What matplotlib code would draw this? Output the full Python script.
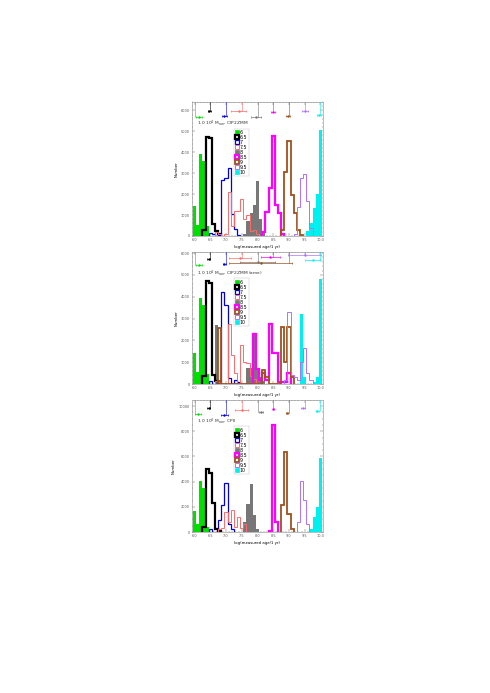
import numpy as np
import matplotlib
matplotlib.use('Agg')
import matplotlib.pyplot as plt
from matplotlib.lines import Line2D

# true ages of the nine populations (log yr)
ages = ['6', '6.5', '7', '7.5', '8', '8.5', '9', '9.5', '10']
true_age = [6.0, 6.5, 7.0, 7.5, 8.0, 8.5, 9.0, 9.5, 10.0]
colors = ['#00e000', 'black', '#0000e0', '#ff6a6a', '#777777',
          '#ff00ff', '#a0501e', '#b070ff', '#00f0f0']
filled = [True, False, False, False, True, False, False, False, True]
lws = [0.6, 1.6, 0.9, 0.7, 0.6, 1.6, 1.3, 0.7, 0.6]

# panel 1: CIP2ZMM
p1_start = [6.0, 6.3, 6.5, 6.7, 7.6, 8.2, 8.8, 9.2, 9.6]
p1_counts = [
    [1430, 520, 3900, 3600, 480],
    [300, 4730, 4660, 550, 250, 80],
    [150, 100, 0, 50, 2660, 2780, 3260, 1070, 330, 50],
    [200, 100, 0, 100, 2100, 500, 1200, 1200, 1750, 800, 1000, 250, 300, 100],
    [100, 700, 1100, 1500, 2620, 800, 150],
    [200, 1150, 2300, 4760, 1500, 1100, 100],
    [270, 3080, 4520, 1960, 1100, 270, 50],
    [100, 1400, 2780, 2950, 1650, 400],
    [250, 600, 1350, 2000, 5080],
]
p1_mean = [6.15, 6.47, 6.95, 7.4, 7.95, 8.5, 8.97, 9.5, 9.95]
p1_err = [0.1, 0.05, 0.08, 0.25, 0.15, 0.07, 0.05, 0.1, 0.06]
p1_ybar = [5700, 5950, 5750, 5950, 5700, 5900, 5750, 5950, 5800]

# panel 2: CIP2ZMM (ame)
p2_start = [6.0, 6.3, 6.5, 6.7, 6.7, 7.9, 6.8, 8.9, 9.4]
p2_counts = [
    [1440, 530, 3950, 3640, 450],
    [350, 4700, 4640, 420, 150],
    [150, 0, 0, 0, 4200, 3600, 270, 0, 200, 100],
    [150, 100, 0, 0, 2770, 1330, 500, 0, 1790, 1030, 950, 350, 250],
    [2700, 200, 0, 0, 0, 0, 0, 0, 0, 0, 730, 730, 2360, 700, 300, 150],
    [2270, 700, 200, 500, 200, 2740, 1440, 1440, 100, 100, 100, 500],
    [2550, 0, 0, 0, 0, 0, 0, 0, 0, 0, 0, 0, 0, 0, 650, 300, 0, 0, 0, 0, 2620, 1030, 2620, 300],
    [200, 3300, 400, 300, 200, 1000, 1640, 500, 200],
    [3230, 300, 0, 0, 100, 300, 4820],
]
p2_mean = [6.15, 6.45, 6.95, 7.45, 8.0, 8.4, 8.1, 9.5, 9.75]
p2_err = [0.1, 0.05, 0.06, 0.35, 0.55, 0.3, 1.0, 0.52, 0.25]
p2_ybar = [5450, 5730, 5500, 5770, 5590, 5830, 5550, 5900, 5670]

# panel 3: CPII
p3_start = [6.0, 6.3, 6.5, 6.8, 7.6, 8.4, 8.8, 9.3, 9.7]
p3_counts = [
    [1670, 660, 4080, 3500, 400],
    [400, 4990, 4700, 2300, 270, 100],
    [200, 0, 0, 930, 2120, 3930, 660, 270],
    [200, 300, 1600, 800, 1720, 400, 1200, 300, 600],
    [800, 2250, 3850, 1330, 200],
    [100, 8490, 800],
    [2120, 6370, 1460, 200],
    [800, 4030, 2520, 600],
    [200, 1190, 1990, 5840],
]
p3_mean = [6.1, 6.45, 6.95, 7.5, 8.1, 8.5, 8.95, 9.45, 9.9]
p3_err = [0.1, 0.05, 0.1, 0.2, 0.06, 0.02, 0.03, 0.06, 0.04]
p3_ybar = [9400, 9850, 9300, 9700, 9500, 9800, 9450, 9850, 9600]

titles = [r'1.0$\cdot$10$^4$ M$_{\rm sun}$, CIP2ZMM',
          r'1.0$\cdot$10$^4$ M$_{\rm sun}$, CIP2ZMM (ame)',
          r'1.0$\cdot$10$^4$ M$_{\rm sun}$, CPII']
ytop = [6400, 6050, 10480]
yticks = [np.arange(0, 6001, 1000), np.arange(0, 6001, 1000), np.arange(0, 10001, 2000)]

W, H = 490, 693
fig = plt.figure(figsize=(W / 100, H / 100), dpi=100)
boxes = [(192, 102, 323, 236), (192, 252, 323, 384), (192, 400, 323, 532)]

panels = [(p1_start, p1_counts, p1_mean, p1_err, p1_ybar),
          (p2_start, p2_counts, p2_mean, p2_err, p2_ybar),
          (p3_start, p3_counts, p3_mean, p3_err, p3_ybar)]

for k, (starts, counts, means, errs, ybars) in enumerate(panels):
    x0, y0, x1, y1 = boxes[k]
    ax = fig.add_axes([x0 / W, 1 - y1 / H, (x1 - x0) / W, (y1 - y0) / H])
    for i in range(len(ages)):
        vals = np.array(counts[i], dtype=float)
        edges = starts[i] - 0.05 + 0.1 * np.arange(len(vals) + 1)
        if filled[i]:
            ax.stairs(vals, edges, fill=True, color=colors[i], zorder=2)
        else:
            ax.stairs(vals, edges, color=colors[i], lw=lws[i], zorder=3)
        # measured mean with spread, and the true age line
        ax.errorbar(means[i], ybars[i], xerr=errs[i], color=colors[i], lw=0.5,
                    capsize=1, capthick=0.5, marker='.', ms=1.5, zorder=4)
        ax.plot([true_age[i], true_age[i]], [ybars[i], ytop[k]], color=colors[i],
                lw=0.4, zorder=4)
    ax.set_xlim(5.92, 10.08)
    ax.set_ylim(0, ytop[k])
    ax.set_xticks(np.arange(6.0, 10.01, 0.5))
    ax.set_xticklabels(['%.1f' % v for v in np.arange(6.0, 10.01, 0.5)])
    ax.set_yticks(yticks[k])
    ax.set_yticklabels([str(v) if v > 0 else '0' for v in yticks[k]])
    ax.minorticks_on()
    ax.tick_params(which='both', direction='in', top=True, right=True,
                   labelsize=2.5, width=0.3, pad=1.5, colors='#555555')
    ax.tick_params(which='major', length=2)
    ax.tick_params(which='minor', length=1)
    for s in ax.spines.values():
        s.set_linewidth(0.4)
        s.set_color('#888888')
    ax.set_xlabel('log(measured age/1 yr)', fontsize=2.8, labelpad=2)
    ax.set_ylabel('Number', fontsize=2.8, labelpad=2)
    ax.text(0.04, 0.84, titles[k], transform=ax.transAxes, fontsize=3.2,
            color='#333333', va='center', zorder=5)
    handles = [Line2D([], [], ls='none', marker='s', ms=3.0,
                      markerfacecolor=colors[i] if filled[i] else 'white',
                      markeredgecolor=colors[i], markeredgewidth=lws[i] if not filled[i] else 0.5)
               for i in range(len(ages))]
    leg = ax.legend(handles, ages, loc='upper left', bbox_to_anchor=(0.32, 0.8),
                    fontsize=3.4, labelspacing=0.0, handletextpad=0.2,
                    handlelength=0.8, borderpad=0.25, frameon=True, fancybox=False,
                    borderaxespad=0)
    leg.get_frame().set_linewidth(0.3)
    leg.get_frame().set_edgecolor('#aaaaaa')
    leg.set_zorder(6)

fig.savefig('out.png', dpi=100)
